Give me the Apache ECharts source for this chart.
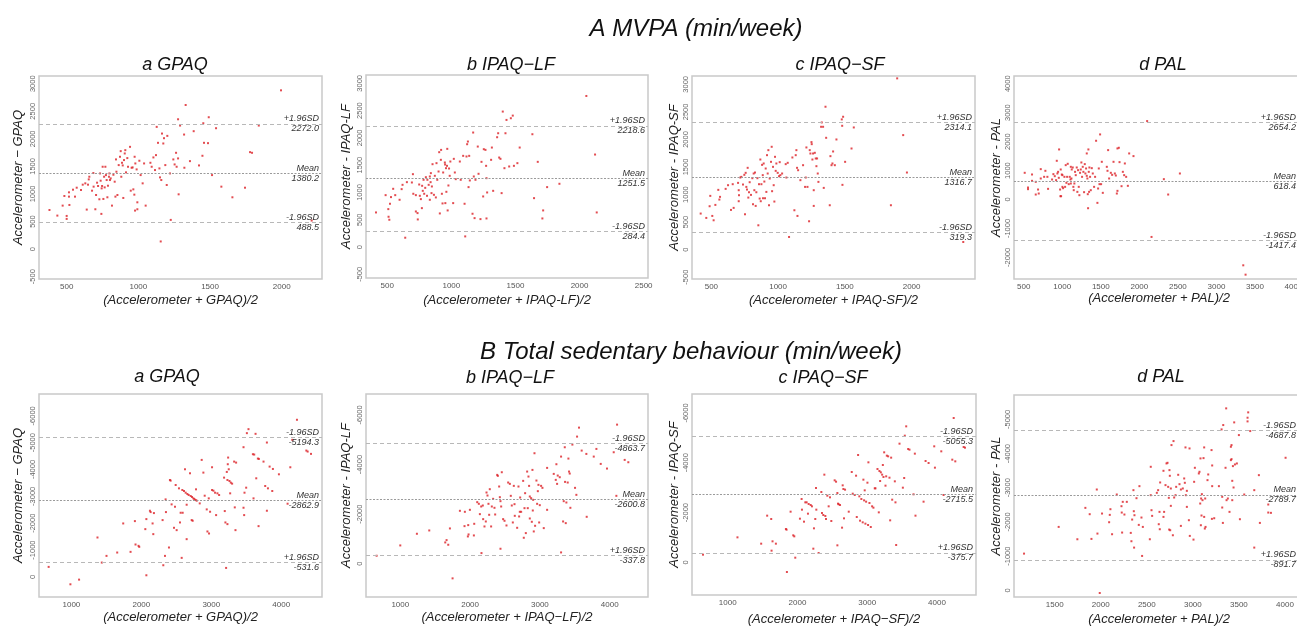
<!DOCTYPE html>
<html><head><meta charset="utf-8">
<script src="https://cdn.jsdelivr.net/npm/echarts@6/dist/echarts.min.js"></script>
<style>html,body{margin:0;padding:0;background:#fff;overflow:hidden}#c{width:1297px;height:628px}</style>
</head><body><div id="c"></div>
<script>
// ---------- DATA ----------
const sectionTitles = ['A MVPA (min/week)', 'B Total sedentary behaviour (min/week)'];
const panelTitles = ['a GPAQ', 'b IPAQ\u2212LF', 'c IPAQ\u2212SF', 'd PAL', 'a GPAQ', 'b IPAQ\u2212LF', 'c IPAQ\u2212SF', 'd PAL'];
const yNames = ['Accelerometer \u2212 GPAQ', 'Accelerometer - IPAQ-LF', 'Accelerometer - IPAQ-SF', 'Accelerometer - PAL',
                'Accelerometer \u2212 GPAQ', 'Accelerometer - IPAQ-LF', 'Accelerometer - IPAQ-SF', 'Accelerometer - PAL'];
const xNames = ['(Accelerometer + GPAQ)/2', '(Accelerometer + IPAQ-LF)/2', '(Accelerometer + IPAQ-SF)/2', '(Accelerometer + PAL)/2',
                '(Accelerometer + GPAQ)/2', '(Accelerometer + IPAQ\u2212LF)/2', '(Accelerometer + IPAQ\u2212SF)/2', '(Accelerometer + PAL)/2'];

// limits of agreement: [upper line, mean, lower line]
const limitValues = [
  [2272.0, 1380.2, 488.5],
  [2218.6, 1251.5, 284.4],
  [2314.1, 1316.7, 319.3],
  [2654.2, 618.4, -1417.4],
  [-5194.3, -2862.9, -531.6],
  [-4863.7, -2600.8, -337.8],
  [-5055.3, -2715.5, -375.7],
  [-4687.8, -2789.7, -891.7]
];
const limitNamesTop = ['+1.96SD', 'Mean', '-1.96SD'];
const limitNamesBottom = ['-1.96SD', 'Mean', '+1.96SD'];

// tick labels
const xTicks = [
  [500, 1000, 1500, 2000],
  [500, 1000, 1500, 2000, 2500],
  [500, 1000, 1500, 2000],
  [500, 1000, 1500, 2000, 2500, 3000, 3500, 4000],
  [1000, 2000, 3000, 4000],
  [1000, 2000, 3000, 4000],
  [1000, 2000, 3000, 4000],
  [1500, 2000, 2500, 3000, 3500, 4000]
];
const yTicks = [
  [-500, 0, 500, 1000, 1500, 2000, 2500, 3000],
  [-500, 0, 500, 1000, 1500, 2000, 2500, 3000],
  [-500, 0, 500, 1000, 1500, 2000, 2500, 3000],
  [-2000, -1000, 0, 1000, 2000, 3000, 4000],
  [-6000, -5000, -4000, -3000, -2000, -1000, 0],
  [-6000, -4000, -2000, 0],
  [-6000, -4000, -2000, 0],
  [-5000, -4000, -3000, -2000, -1000, 0]
];
const xRanges = [[307, 2281], [334, 2534], [355, 2475], [374, 4136], [537, 4583], [509, 4548], [487, 4560], [1058, 4207]];
const yRanges = [[-542, 3140], [-567, 3152], [-533, 3152], [-2745, 4267], [-6812, 747], [-6845, 1342], [-6762, 1312], [-5713, 195]];

// points [mean of methods, difference]
const mvpaGpaq = [[380,710],[435,608],[472,789],[484,964],[500,602],[500,548],[516,1030],[519,801],[516,952],[544,1078],[558,952],[570,1114],[600,1072],[612,1169],[630,1193],[640,717],[649,1169],[654,1265],[658,1313],[677,1060],[686,1380],[688,1133],[700,723],[705,982],[712,1205],[719,1145],[728,904],[733,1373],[737,1241],[742,639],[744,1102],[747,1145],[751,1494],[756,910],[761,1313],[765,1120],[770,1494],[774,1343],[779,1253],[784,940],[788,1150],[795,1313],[798,1373],[802,1253],[807,1283],[816,789],[826,1349],[835,1223],[840,952],[844,1627],[847,1404],[854,982],[863,1524],[872,1675],[877,1777],[881,1313],[886,1566],[891,1518],[895,928],[900,1615],[905,1735],[909,1795],[914,1392],[923,1651],[928,1494],[942,1855],[947,1060],[953,1476],[960,1482],[965,1084],[972,988],[974,1675],[977,699],[979,1554],[988,1446],[993,849],[993,723],[1007,1603],[1016,1343],[1030,1193],[1040,1554],[1051,789],[1084,1566],[1093,1494],[1105,1663],[1116,1434],[1123,1705],[1128,2217],[1137,1928],[1147,1464],[1151,1301],[1156,139],[1160,1253],[1165,2096],[1174,1916],[1179,2012],[1188,1524],[1198,1163],[1202,2054],[1221,1373],[1226,530],[1244,1627],[1253,1536],[1263,1747],[1267,1494],[1277,2355],[1277,1645],[1281,994],[1291,2241],[1319,2078],[1321,1476],[1330,2614],[1360,1596],[1386,2139],[1423,1518],[1447,1693],[1453,2283],[1458,1928],[1486,1922],[1491,2392],[1514,1343],[1542,2193],[1579,1133],[1656,940],[1744,1114],[1779,1759],[1793,1747],[1840,2241],[1995,2880],[2209,518]];
const mvpaIpaqLf = [[412,634],[487,951],[508,695],[510,555],[516,500],[521,793],[529,915],[546,1067],[562,951],[596,866],[612,1061],[619,1140],[653,1189],[640,171],[692,1183],[700,1335],[703,976],[723,951],[723,652],[736,622],[738,506],[749,1146],[754,939],[762,878],[770,713],[772,1122],[777,1030],[783,1232],[788,976],[796,1085],[801,1280],[810,939],[813,1232],[823,1140],[832,1293],[832,866],[838,1189],[840,1354],[845,988],[848,1110],[853,1518],[864,957],[871,1305],[879,909],[884,1537],[890,1232],[900,1384],[905,1738],[910,616],[918,1598],[920,1780],[926,976],[931,799],[936,1366],[949,1549],[951,1512],[953,805],[958,1445],[961,1012],[966,1488],[968,1799],[971,671],[977,1128],[982,1439],[987,1305],[992,1567],[1014,805],[1019,1616],[1027,1366],[1034,1244],[1066,1567],[1073,1232],[1092,1671],[1103,793],[1108,195],[1118,1659],[1123,1884],[1129,1933],[1134,1098],[1139,1671],[1144,1220],[1165,610],[1170,2098],[1175,1293],[1181,530],[1188,1232],[1206,1841],[1212,1342],[1227,512],[1235,1561],[1248,927],[1253,1793],[1266,1780],[1271,1488],[1274,524],[1274,1262],[1279,1000],[1310,1598],[1316,1823],[1326,1030],[1357,2012],[1365,2085],[1373,1640],[1383,1616],[1392,988],[1401,2482],[1414,1445],[1422,2085],[1430,2329],[1451,1476],[1464,2360],[1479,2408],[1488,1488],[1515,1537],[1533,1823],[1632,2067],[1645,896],[1674,1561],[1710,524],[1716,671],[1747,1098],[1843,1159],[2053,2768],[2121,1695],[2134,634]];
const mvpaIpaqSf = [[420,655],[462,576],[487,788],[492,976],[507,612],[517,533],[530,812],[552,1085],[560,909],[565,958],[607,1103],[625,1170],[647,721],[660,1188],[667,758],[700,1212],[705,1079],[707,988],[705,879],[717,1309],[725,1321],[737,1182],[747,1358],[752,642],[757,1394],[762,1139],[767,1091],[772,1485],[777,945],[782,1042],[787,1224],[797,994],[807,1297],[812,824],[817,1382],[822,1079],[827,1400],[832,794],[837,1042],[845,1297],[852,442],[857,1188],[862,927],[867,1636],[870,879],[875,1188],[880,1539],[885,1352],[887,933],[892,1564],[897,1236],[902,933],[907,1473],[912,1048],[917,1715],[922,1382],[927,1806],[932,806],[937,1291],[947,1594],[952,1867],[955,1061],[962,1503],[967,1170],[972,873],[977,1685],[982,1430],[987,1564],[997,1394],[1007,1333],[1012,1588],[1017,1352],[1030,1382],[1057,1552],[1062,1309],[1072,1576],[1082,230],[1107,1673],[1122,715],[1132,1715],[1137,1806],[1142,1485],[1145,612],[1150,1442],[1167,1261],[1187,1533],[1202,1139],[1207,1309],[1212,1855],[1220,1139],[1232,515],[1237,1806],[1242,1745],[1250,1952],[1252,1915],[1257,1636],[1262,1745],[1267,1079],[1267,794],[1275,1758],[1282,1655],[1287,1515],[1292,1655],[1297,1382],[1302,1230],[1322,2230],[1327,2309],[1337,2230],[1342,1121],[1355,2594],[1360,2030],[1387,806],[1392,1697],[1400,1533],[1407,1564],[1412,1782],[1425,1533],[1437,2000],[1477,2364],[1480,2248],[1482,1176],[1487,2412],[1502,1594],[1550,1836],[1567,2218],[1845,806],[1892,3109],[1937,2079],[1965,1400],[2387,139]];
const mvpaPal = [[513,923],[556,415],[556,358],[608,865],[608,646],[656,611],[656,173],[686,346],[695,208],[721,1050],[721,727],[765,784],[781,992],[807,784],[816,369],[868,692],[885,877],[903,807],[920,669],[929,1338],[937,900],[946,957],[955,750],[959,1730],[972,346],[976,115],[980,1038],[985,115],[994,865],[1002,842],[1002,438],[1011,392],[1028,784],[1037,438],[1045,1188],[1054,577],[1063,784],[1071,1234],[1084,531],[1097,784],[1106,692],[1111,1130],[1111,554],[1119,727],[1123,1038],[1136,1107],[1144,438],[1149,323],[1157,554],[1166,957],[1175,842],[1188,1107],[1196,265],[1205,1015],[1214,438],[1222,150],[1231,923],[1240,1038],[1248,1280],[1257,784],[1266,1130],[1274,957],[1283,254],[1292,1223],[1300,900],[1309,1073],[1318,819],[1318,1592],[1326,727],[1331,185],[1335,-300],[1339,1730],[1344,957],[1348,265],[1352,1107],[1361,784],[1370,323],[1383,1084],[1396,900],[1413,438],[1426,784],[1439,2030],[1456,-115],[1465,381],[1474,1073],[1483,531],[1491,2249],[1504,531],[1513,1303],[1526,231],[1578,1130],[1587,992],[1595,1707],[1608,727],[1630,923],[1647,853],[1665,1303],[1682,900],[1695,830],[1708,208],[1716,300],[1716,1765],[1734,1788],[1743,1292],[1769,461],[1786,957],[1803,842],[1812,1246],[1829,784],[1851,473],[1868,1592],[1924,1500],[2101,2710],[2158,-1292],[2318,704],[2374,173],[2526,900],[3348,-2272],[3378,-2595]];
const sedGpaq = [[675,-374],[986,274],[1110,100],[1373,-1469],[1435,-535],[1502,-784],[1655,-909],[1741,-1992],[1846,-934],[1908,-2079],[1917,-1208],[1960,-1158],[1970,-1120],[2057,-1780],[2072,-2154],[2072,-62],[2123,-2465],[2133,-2415],[2161,-1992],[2171,-1594],[2180,-2378],[2304,-2117],[2314,-436],[2338,-784],[2347,-2888],[2352,-2415],[2395,-1096],[2409,-3610],[2419,-3586],[2433,-2702],[2467,-1830],[2481,-2614],[2491,-3424],[2505,-1743],[2538,-3299],[2553,-2029],[2562,-2390],[2577,-710],[2586,-3237],[2591,-2390],[2610,-3200],[2624,-4009],[2634,-3137],[2648,-2689],[2648,-1407],[2658,-3088],[2677,-3050],[2696,-3860],[2706,-3013],[2720,-2117],[2725,-2976],[2734,-2092],[2744,-2926],[2758,-2901],[2777,-2864],[2782,-3262],[2792,-2839],[2835,-2739],[2863,-4358],[2887,-3885],[2906,-3025],[2935,-2515],[2945,-1693],[2968,-1618],[2964,-2926],[2983,-2428],[3011,-4084],[3011,-3237],[3031,-3212],[3054,-3137],[3069,-2303],[3088,-3113],[3112,-3050],[3183,-3698],[3193,-2453],[3202,-2029],[3212,-336],[3222,-3910],[3231,-3610],[3231,-1967],[3236,-4197],[3241,-4445],[3250,-4009],[3260,-3573],[3270,-3113],[3279,-3511],[3298,-3474],[3327,-4295],[3336,-2590],[3346,-1743],[3355,-4258],[3461,-4831],[3461,-2577],[3470,-2303],[3475,-3137],[3499,-3324],[3509,-5354],[3532,-5503],[3595,-4570],[3604,-2926],[3614,-4557],[3633,-5329],[3643,-3673],[3666,-4408],[3676,-1892],[3681,-4395],[3747,-4295],[3771,-3387],[3795,-5005],[3795,-2465],[3810,-3299],[3834,-4109],[3872,-3200],[3881,-4021],[3967,-3822],[4091,-2727],[4130,-4084],[4158,-5105],[4225,-5852],[4359,-4706],[4378,-4669],[4426,-4582]];
const sedIpaqLf = [[661,-322],[1000,-738],[1238,-1208],[1415,-1342],[1644,-859],[1663,-953],[1687,-765],[1711,-1423],[1749,590],[1854,-2134],[1920,-1516],[1925,-2094],[1968,-1100],[1973,-1557],[1978,-1181],[1997,-2174],[2054,-1141],[2059,-1610],[2102,-2483],[2125,-2416],[2140,-2000],[2159,-2308],[2163,-429],[2182,-2348],[2187,-1798],[2206,-1503],[2225,-1704],[2235,-2872],[2249,-2751],[2263,-2416],[2273,-1973],[2282,-3006],[2301,-1503],[2311,-2308],[2330,-2617],[2349,-2255],[2359,-1986],[2388,-3583],[2397,-3543],[2416,-3114],[2426,-2684],[2435,-2523],[2435,-604],[2445,-2308],[2454,-3690],[2473,-1798],[2493,-1731],[2521,-1543],[2545,-3275],[2569,-3221],[2583,-2738],[2597,-2348],[2612,-1664],[2626,-3140],[2636,-2402],[2640,-1932],[2674,-1449],[2693,-3114],[2702,-1906],[2712,-2094],[2717,-2671],[2731,-2094],[2760,-3342],[2769,-1047],[2779,-2241],[2788,-2845],[2798,-1235],[2817,-3717],[2826,-2241],[2836,-3516],[2845,-3140],[2855,-2711],[2855,-1825],[2874,-2644],[2884,-1691],[2893,-3784],[2898,-2147],[2903,-2577],[2912,-1302],[2922,-4456],[2931,-1530],[2950,-3355],[2960,-2416],[2970,-2926],[2979,-3181],[2989,-1664],[2998,-2362],[3017,-3140],[3036,-3060],[3055,-1436],[3103,-3865],[3103,-2174],[3198,-3623],[3227,-3382],[3236,-4013],[3246,-3221],[3255,-3556],[3284,-3489],[3303,-4321],[3303,-456],[3332,-1704],[3341,-2523],[3356,-4697],[3360,-3301],[3370,-1637],[3379,-2469],[3398,-3275],[3408,-4241],[3417,-3717],[3427,-3637],[3436,-2255],[3465,-4805],[3503,-3060],[3522,-2778],[3532,-5127],[3560,-5489],[3598,-4563],[3665,-4429],[3670,-1892],[3771,-4321],[3809,-4630],[3871,-4026],[3961,-3838],[4057,-4496],[4095,-2738],[4105,-5610],[4214,-4187],[4266,-4093]];
const sedIpaqSf = [[645,-308],[1139,-1004],[1479,-750],[1565,-1875],[1623,-1741],[1628,-469],[1642,-844],[1690,-750],[1834,-1339],[1843,-1312],[1848,388],[1901,-2035],[1939,-1085],[1954,-1044],[1968,-187],[2035,-1754],[2059,-2544],[2064,-2116],[2093,-1634],[2112,-2410],[2131,-2410],[2150,-1955],[2160,-2343],[2189,-2303],[2207,-2250],[2227,-549],[2236,-1366],[2255,-1741],[2265,-2986],[2270,-2116],[2303,-375],[2342,-2825],[2351,-1982],[2370,-1901],[2385,-3522],[2399,-1861],[2409,-1741],[2428,-2678],[2447,-2250],[2466,-2611],[2485,-1660],[2533,-3294],[2553,-3240],[2572,-2785],[2572,-683],[2581,-2357],[2591,-2330],[2610,-2303],[2639,-1393],[2648,-3093],[2658,-2946],[2667,-1767],[2682,-2919],[2735,-2035],[2778,-3629],[2792,-2758],[2821,-2705],[2840,-3481],[2850,-1821],[2869,-4312],[2887,-2651],[2897,-1674],[2916,-2544],[2935,-1607],[2945,-3321],[2955,-2490],[2964,-2892],[2974,-1553],[2984,-2437],[3003,-3200],[3012,-1500],[3017,-4017],[3032,-2383],[3051,-1419],[3070,-2250],[3089,-2196],[3108,-2973],[3118,-2973],[3147,-3749],[3166,-2008],[3175,-3669],[3185,-3267],[3195,-3615],[3214,-3522],[3224,-3910],[3233,-3428],[3243,-4419],[3262,-3080],[3272,-3455],[3281,-4285],[3300,-4258],[3319,-3401],[3329,-1687],[3343,-4205],[3358,-2517],[3396,-3254],[3405,-2410],[3415,-696],[3463,-4767],[3511,-2999],[3530,-3388],[3539,-5088],[3559,-5463],[3587,-4553],[3606,-4526],[3664,-2732],[3683,-4366],[3692,-1875],[3808,-2437],[3837,-4071],[3880,-3990],[3961,-4660],[3971,-3803],[4062,-4459],[4095,-2705],[4220,-4124],[4240,-5798],[4263,-4057],[4383,-4633],[4402,-4606]];
const sedPal = [[1167,-1074],[1543,-1855],[1746,-1494],[1833,-2412],[1880,-2227],[1899,-1504],[1957,-2949],[1964,-1660],[1989,78],[2014,-2246],[2091,-1992],[2098,-2207],[2105,-2373],[2123,-1641],[2174,-2803],[2225,-2461],[2228,-2275],[2232,-1690],[2239,-2588],[2257,-2217],[2283,-2588],[2326,-1680],[2333,-1436],[2341,-2070],[2355,-2930],[2359,-2314],[2362,-1250],[2366,-2197],[2388,-2695],[2413,-1914],[2420,-3047],[2442,-2129],[2449,-1006],[2457,-1855],[2533,-1494],[2543,-3613],[2543,-2783],[2551,-2344],[2558,-2178],[2609,-2852],[2623,-2930],[2630,-1934],[2638,-2295],[2641,-1787],[2645,-3155],[2681,-2148],[2681,-3496],[2688,-2295],[2703,-3077],[2714,-3711],[2725,-3730],[2732,-3027],[2739,-2705],[2743,-1777],[2746,-3516],[2750,-3350],[2754,-1758],[2761,-2979],[2761,-2471],[2768,-4248],[2783,-1611],[2790,-4365],[2797,-2715],[2812,-2783],[2819,-3027],[2841,-3379],[2855,-3105],[2870,-2949],[2870,-1885],[2891,-2979],[2906,-3272],[2913,-3145],[2920,-4180],[2924,-2783],[2935,-2910],[2935,-2441],[2957,-2051],[2964,-4150],[2967,-1592],[3007,-1484],[3014,-3174],[3022,-3584],[3065,-3418],[3072,-3467],[3080,-2539],[3083,-3858],[3087,-1904],[3090,-2686],[3094,-2188],[3098,-2813],[3105,-2637],[3116,-3867],[3123,-4180],[3123,-2148],[3130,-1807],[3134,-2686],[3138,-1855],[3159,-3223],[3167,-3389],[3203,-4102],[3207,-2090],[3210,-3652],[3210,-3047],[3232,-2109],[3283,-3047],[3312,-4707],[3319,-2422],[3319,-2735],[3326,-1972],[3330,-4834],[3355,-3584],[3362,-5322],[3366,-2637],[3380,-2686],[3398,-2295],[3413,-3808],[3420,-3838],[3413,-4199],[3420,-4248],[3428,-3203],[3428,-2637],[3435,-3633],[3442,-3008],[3449,-4912],[3457,-3682],[3478,-3711],[3500,-4541],[3511,-2080],[3558,-2803],[3594,-4941],[3594,-5049],[3601,-5205],[3623,-4658],[3667,-1250],[3667,-2930],[3717,-3369],[3728,-1972],[3819,-2510],[3819,-2275],[3848,-2266],[4007,-3877]];

const panelData = [mvpaGpaq, mvpaIpaqLf, mvpaIpaqSf, mvpaPal, sedGpaq, sedIpaqLf, sedIpaqSf, sedPal];

// ---------- LAYOUT (pixels) ----------
const grids = [
  {left: 39, top: 76, width: 283, height: 203},
  {left: 366, top: 75, width: 282, height: 203},
  {left: 692, top: 76, width: 283, height: 203},
  {left: 1014, top: 76, width: 290, height: 203},
  {left: 39, top: 394, width: 283, height: 203},
  {left: 366, top: 394, width: 282, height: 203},
  {left: 692, top: 394, width: 284, height: 201},
  {left: 1014, top: 395, width: 290, height: 202}
];
const yNameGap = [14, 13, 10, 11, 14, 13, 10, 8];
const xNameGap = [15, 16, 15, 12, 14, 14, 18, 16];
const labelInset = [3, 3, 3, 8, 3, 3, 3, 8];
const panelTitlePos = [[170, 51], [506, 51], [835, 51], [1158, 51], [162, 363], [505, 364], [818, 364], [1156, 363]];

const FONT = "'Liberation Sans', Arial, sans-serif";
const plain = v => String(v);

const option = {
  animation: false,
  backgroundColor: '#fff',
  title: [
    {text: sectionTitles[0], left: 691, top: 12, textAlign: 'center',
     textStyle: {fontFamily: FONT, fontStyle: 'italic', fontWeight: 'normal', fontSize: 24, color: '#111'}},
    {text: sectionTitles[1], left: 686, top: 335, textAlign: 'center',
     textStyle: {fontFamily: FONT, fontStyle: 'italic', fontWeight: 'normal', fontSize: 24, color: '#111'}}
  ].concat(panelTitles.map((t, i) => ({
    text: t, left: panelTitlePos[i][0], top: panelTitlePos[i][1], textAlign: 'center',
    textStyle: {fontFamily: FONT, fontStyle: 'italic', fontWeight: 'normal', fontSize: 18, color: '#111'}
  }))),
  grid: grids.map(g => Object.assign({show: true, borderColor: '#c9c9c9', borderWidth: 1.5, backgroundColor: 'transparent',
                                      containLabel: false, outerBoundsMode: 'none'}, g)),
  xAxis: grids.map((g, i) => ({
    type: 'value', gridIndex: i, min: xRanges[i][0], max: xRanges[i][1],
    name: xNames[i], nameLocation: 'middle', nameGap: xNameGap[i],
    nameTextStyle: {fontFamily: FONT, fontStyle: 'italic', fontSize: 13, color: '#222'},
    axisLine: {show: false}, axisTick: {show: false}, splitLine: {show: false},
    axisLabel: {customValues: xTicks[i], formatter: plain, fontFamily: FONT, fontSize: 8, color: '#555', margin: 4, hideOverlap: false}
  })),
  yAxis: grids.map((g, i) => ({
    type: 'value', gridIndex: i, min: yRanges[i][0], max: yRanges[i][1], inverse: i >= 4,
    name: yNames[i], nameLocation: 'middle', nameGap: yNameGap[i], nameRotate: 90,
    nameTextStyle: {fontFamily: FONT, fontStyle: 'italic', fontSize: 13, color: '#222'},
    axisLine: {show: false}, axisTick: {show: false}, splitLine: {show: false},
    axisLabel: {customValues: yTicks[i], formatter: plain, rotate: 90, fontFamily: FONT, fontSize: 7.5, color: '#666', margin: 2}
  })),
  series: panelData.map((d, i) => {
    const names = i < 4 ? limitNamesTop : limitNamesBottom;
    return {
      type: 'scatter', xAxisIndex: i, yAxisIndex: i, data: d,
      symbol: 'rect', symbolSize: 2,
      itemStyle: {color: '#dc1f26'},
      markLine: {
        silent: true, symbol: 'none', animation: false,
        label: {position: 'insideEnd', distance: [labelInset[i], 0], fontFamily: FONT, fontStyle: 'italic', fontSize: 9, lineHeight: 10, color: '#333'},
        data: limitValues[i].map((v, k) => ({
          yAxis: v,
          label: {formatter: names[k] + '\n' + v.toFixed(1)},
          lineStyle: k === 1 ? {color: '#9a9a9a', type: [2, 1.5], width: 1} : {color: '#b8b8b8', type: [4, 3], width: 1}
        }))
      }
    };
  })
};

const chart = echarts.init(document.getElementById('c'), null, {renderer: 'canvas'});
chart.setOption(option);
</script>
</body></html>
